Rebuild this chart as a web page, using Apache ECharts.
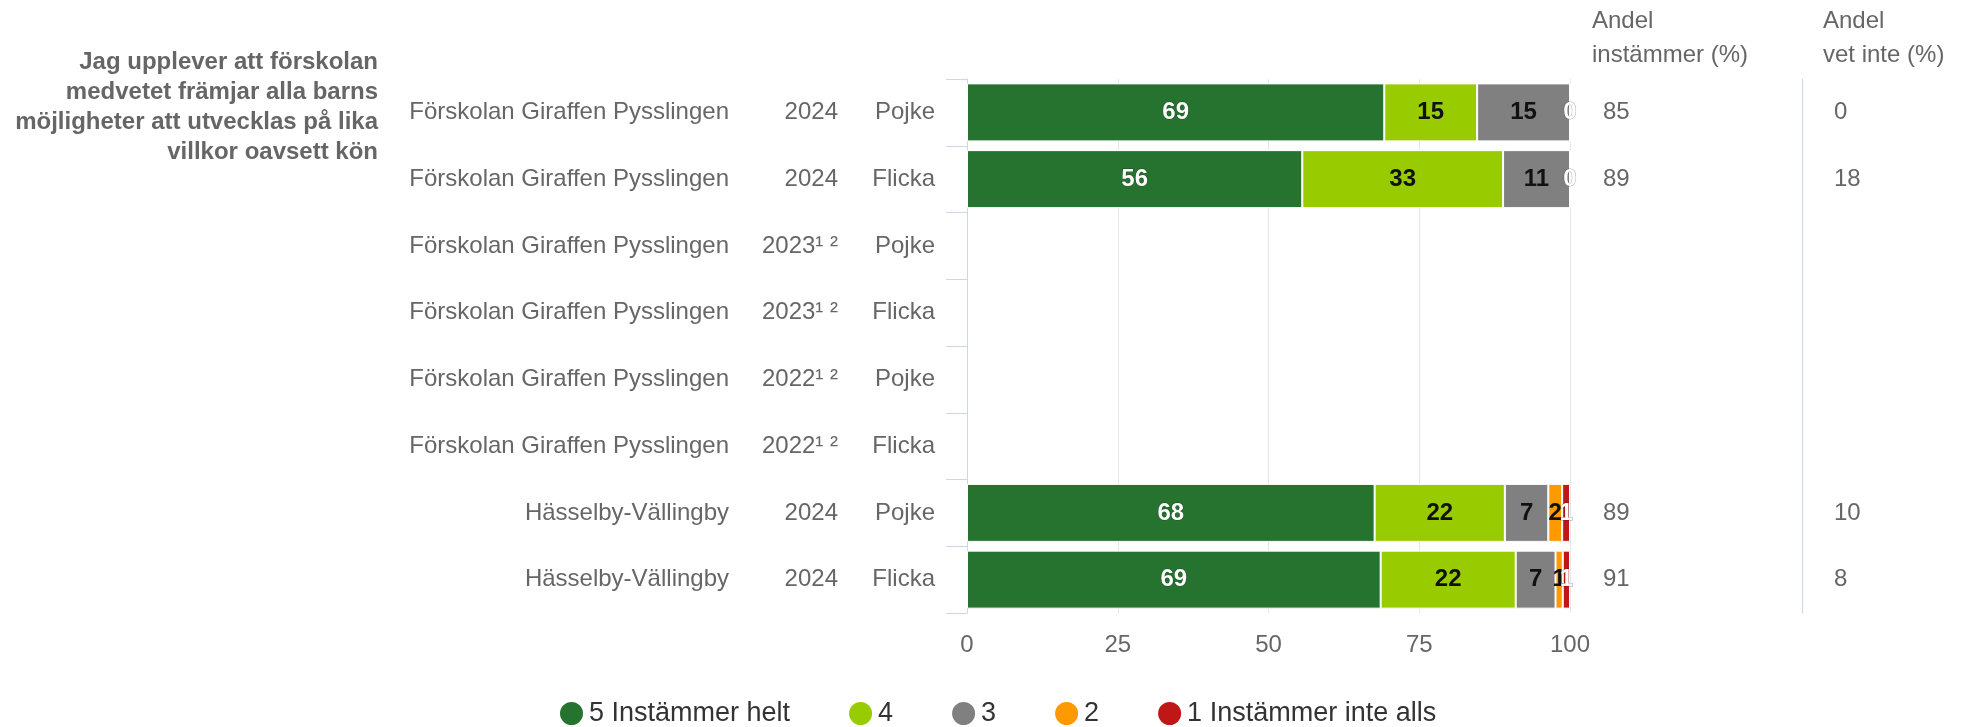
<!DOCTYPE html>
<html>
<head>
<meta charset="utf-8">
<script src="https://cdn.jsdelivr.net/npm/echarts@6/dist/echarts.min.js"></script>
<style>
  html, body { margin: 0; padding: 0; background: #fff; }
  #chart { width: 1967px; height: 727px; }
</style>
</head>
<body>
<div id="chart"></div>
<script>
// rader uppifrån och ner
const schools = ['Förskolan Giraffen Pysslingen', 'Förskolan Giraffen Pysslingen', 'Förskolan Giraffen Pysslingen',
  'Förskolan Giraffen Pysslingen', 'Förskolan Giraffen Pysslingen', 'Förskolan Giraffen Pysslingen',
  'Hässelby-Vällingby', 'Hässelby-Vällingby']
const years = ['2024', '2024', '2023¹ ²', '2023¹ ²', '2022¹ ²', '2022¹ ²', '2024', '2024']
const genders = ['Pojke', 'Flicka', 'Pojke', 'Flicka', 'Pojke', 'Flicka', 'Pojke', 'Flicka']

// andel svar (%) per svarsalternativ
const helt = [69.2, 55.6, null, null, null, null, 67.6, 68.6]
const fyra = [15.4, 33.3, null, null, null, null, 21.6, 22.4]
const tre = [15.4, 11.1, null, null, null, null, 7.2, 6.6]
const tva = [0, 0, null, null, null, null, 2.3, 1.2]
const inteAlls = [0, 0, null, null, null, null, 1.3, 1.2]

const agreeShare = [85, 89, null, null, null, null, 89, 91]
const dontKnowShare = [0, 18, null, null, null, null, 10, 8]

const xTicks = [0, 25, 50, 75, 100]

const FONT = 'Liberation Sans, Arial, sans-serif'
const rowKeys = schools.map((s, i) => i + '')

function makeSeries(name, data, color, labelColor, hideZero) {
  return {
    name: name,
    type: 'bar',
    stack: 'svar',
    barWidth: 58,
    data: data,
    itemStyle: { color: color, borderColor: '#ffffff', borderWidth: 1 },
    label: {
      show: true,
      position: 'inside',
      color: labelColor,
      fontFamily: FONT,
      fontSize: 24,
      fontWeight: 'bold',
      textBorderColor: labelColor === '#ffffff' ? 'rgba(0,0,0,0.35)' : 'transparent',
      textBorderWidth: labelColor === '#ffffff' ? 1 : 0,
      formatter: p => {
        if (p.value == null) return ''
        if (hideZero && p.value === 0) return ''
        return Math.round(p.value)
      }
    },
    emphasis: { disabled: true }
  }
}

const chart = echarts.init(document.getElementById('chart'))
chart.setOption({
  animation: false,
  textStyle: { fontFamily: FONT },
  grid: { left: 967, right: 397, top: 79, bottom: 114 },
  legend: {
    left: 553,
    top: 695,
    icon: 'circle',
    itemWidth: 25,
    itemHeight: 25,
    itemGap: 57,
    textStyle: { color: '#333333', fontSize: 27, fontFamily: FONT }
  },
  graphic: [
    {
      type: 'text',
      x: 378,
      y: 47,
      style: {
        text: 'Jag upplever att förskolan\nmedvetet främjar alla barns\nmöjligheter att utvecklas på lika\nvillkor oavsett kön',
        align: 'right',
        fill: '#666666',
        font: 'bold 24px ' + FONT,
        lineHeight: 30
      }
    },
    {
      type: 'text',
      x: 1592,
      y: 4,
      style: { text: 'Andel\ninstämmer (%)', fill: '#666666', font: '24px ' + FONT, lineHeight: 34 }
    },
    {
      type: 'text',
      x: 1823,
      y: 4,
      style: { text: 'Andel\nvet inte (%)', fill: '#666666', font: '24px ' + FONT, lineHeight: 34 }
    }
  ],
  xAxis: {
    type: 'value',
    min: xTicks[0],
    max: xTicks[xTicks.length - 1],
    interval: 25,
    axisLine: { show: false },
    axisTick: { show: false },
    splitLine: { lineStyle: { color: '#e6e6e6', width: 1 } },
    axisLabel: { color: '#666666', fontSize: 24, margin: 20 }
  },
  yAxis: [
    {
      type: 'category',
      inverse: true,
      data: rowKeys,
      axisLine: { show: true, lineStyle: { color: '#ccd6eb', width: 1 } },
      axisTick: { show: true, inside: false, length: 21, lineStyle: { color: '#ccd6eb', width: 1 } },
      axisLabel: {
        margin: 32,
        color: '#666666',
        fontSize: 24,
        formatter: (v, i) => `{a|${schools[i]}}{b|${years[i]}}{c|${genders[i]}}`,
        rich: {
          a: { width: 330, align: 'right', fontSize: 24, color: '#666666' },
          b: { width: 109, align: 'right', fontSize: 24, color: '#666666' },
          c: { width: 97, align: 'right', fontSize: 24, color: '#666666' }
        }
      }
    },
    {
      // andel instämmer
      type: 'category',
      inverse: true,
      position: 'right',
      data: rowKeys,
      axisLine: { show: false },
      axisTick: { show: false },
      axisLabel: {
        margin: 33,
        align: 'left',
        color: '#666666',
        fontSize: 24,
        formatter: (v, i) => agreeShare[i] == null ? '' : agreeShare[i] + ''
      }
    },
    {
      // andel vet inte
      type: 'category',
      inverse: true,
      position: 'right',
      offset: 232,
      data: rowKeys,
      axisLine: { show: true, lineStyle: { color: '#ccd6eb' } },
      axisTick: { show: false },
      axisLabel: {
        margin: 32,
        align: 'left',
        color: '#666666',
        fontSize: 24,
        formatter: (v, i) => dontKnowShare[i] == null ? '' : dontKnowShare[i] + ''
      }
    }
  ],
  series: [
    makeSeries('5 Instämmer helt', helt, '#25732f', '#ffffff', false),
    makeSeries('4', fyra, '#99cc00', '#111111', false),
    makeSeries('3', tre, '#808080', '#111111', false),
    makeSeries('2', tva, '#ff9900', '#111111', true),
    makeSeries('1 Instämmer inte alls', inteAlls, '#bf1717', '#ffffff', false)
  ]
})
</script>
</body>
</html>
